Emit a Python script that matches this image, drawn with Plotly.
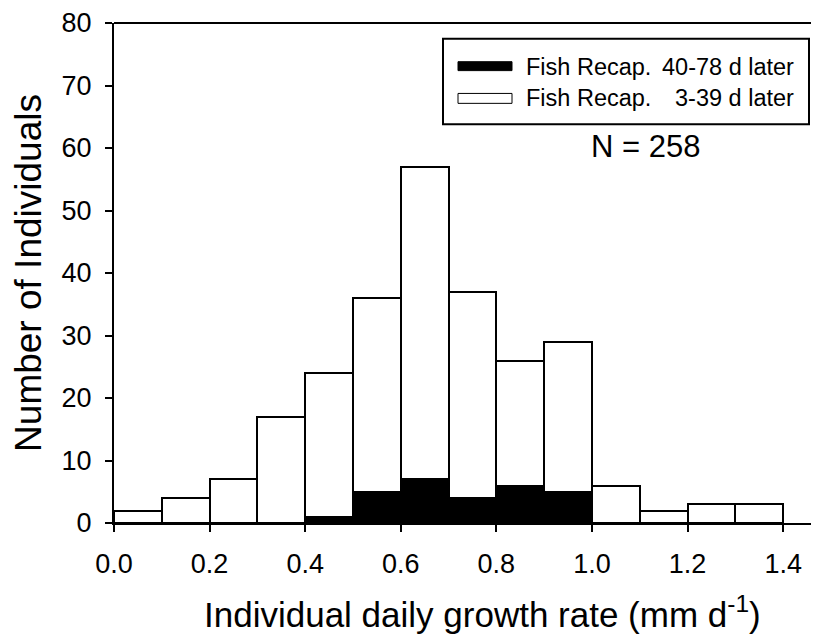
import plotly.graph_objects as go

# ---- data ----
bin_centers = [0.05, 0.15, 0.25, 0.35, 0.45, 0.55, 0.65, 0.75, 0.85, 0.95, 1.05, 1.15, 1.25, 1.35]
totals      = [2, 4, 7, 17, 24, 36, 57, 37, 26, 29, 6, 2, 3, 3]
late_recap  = [0, 0, 0, 0, 1, 5, 7, 4, 6, 5, 0, 0, 0, 0]   # Fish Recap. 40-78 d later
early_recap = [t - l for t, l in zip(totals, late_recap)]  # Fish Recap. 3-39 d later
x_ticks = [0.0, 0.2, 0.4, 0.6, 0.8, 1.0, 1.2, 1.4]
x_tick_labels = ["0.0", "0.2", "0.4", "0.6", "0.8", "1.0", "1.2", "1.4"]
y_ticks = [0, 10, 20, 30, 40, 50, 60, 70, 80]
n_total = 258

FONT = "Liberation Sans, Arial, sans-serif"

fig = go.Figure()
fig.add_trace(go.Bar(x=bin_centers, y=late_recap, width=0.1,
                     marker=dict(color="black", line=dict(color="black", width=2)),
                     name="Fish Recap. 40-78 d later"))
fig.add_trace(go.Bar(x=bin_centers, y=early_recap, width=0.1,
                     marker=dict(color="white", line=dict(color="black", width=2)),
                     name="Fish Recap. 3-39 d later"))

# page offset of the figure (body margin) = 8px
OFF = 8
W, H = 819 - OFF, 640 - OFF
L, T = 114 - OFF, 19 - OFF
R = 0
B = H - (523 - OFF)
pw, ph = W - L - R, H - T - B
def px(xp): return (xp - OFF - L) / pw          # page x -> paper
def py(yp): return (H - B - (yp - OFF)) / ph    # page y -> paper

shapes = [
    # top frame line
    dict(type="line", xref="paper", yref="paper", x0=0, x1=1, y0=1, y1=1,
         line=dict(color="black", width=2)),
    # legend box
    dict(type="rect", xref="paper", yref="paper", x0=px(443), x1=px(809), y0=py(121), y1=py(35),
         line=dict(color="black", width=2), fillcolor="white"),
    dict(type="rect", xref="paper", yref="paper", x0=px(458), x1=px(512), y0=py(67), y1=py(58),
         line=dict(color="black", width=1), fillcolor="black"),
    dict(type="rect", xref="paper", yref="paper", x0=px(458), x1=px(512), y0=py(100), y1=py(90),
         line=dict(color="black", width=1), fillcolor="white"),
]

lfont = dict(family=FONT, size=23.5, color="black")
annotations = [
    dict(text="Fish Recap.", xref="paper", yref="paper", x=px(524), y=py(63),
         xanchor="left", yanchor="middle", showarrow=False, font=lfont),
    dict(text="40-78 d later", xref="paper", yref="paper", x=px(796), y=py(63),
         xanchor="right", yanchor="middle", showarrow=False, font=lfont),
    dict(text="Fish Recap.", xref="paper", yref="paper", x=px(524), y=py(95),
         xanchor="left", yanchor="middle", showarrow=False, font=lfont),
    dict(text="3-39 d later", xref="paper", yref="paper", x=px(796), y=py(95),
         xanchor="right", yanchor="middle", showarrow=False, font=lfont),
    dict(text=f"N = {n_total}", xref="paper", yref="paper", x=px(645), y=py(143),
         xanchor="center", yanchor="middle", showarrow=False,
         font=dict(family=FONT, size=31, color="black")),
    # x-axis title
    dict(text="Individual daily growth rate (mm d<sup>-1</sup>)", xref="paper", yref="paper",
         x=px(482), y=py(613), xanchor="center", yanchor="middle", showarrow=False,
         font=dict(family=FONT, size=35, color="black")),
]

fig.update_layout(
    width=W, height=H,
    margin=dict(l=L, r=R, t=T, b=B, pad=0),
    paper_bgcolor="white", plot_bgcolor="white",
    barmode="stack", bargap=0, showlegend=False,
    font=dict(family=FONT, color="black", size=27),
    shapes=shapes, annotations=annotations,
    xaxis=dict(range=[0, 1.475], tickvals=x_ticks, ticktext=x_tick_labels,
               ticks="outside", ticklen=7, tickwidth=2, tickcolor="black",
               showline=True, linecolor="black", linewidth=2,
               showgrid=False, zeroline=False,
               tickfont=dict(family=FONT, size=27, color="black"),
               ticklabelstandoff=9, ticklabeloverflow="allow"),
    yaxis=dict(range=[0, 80], tickvals=y_ticks,
               ticks="outside", ticklen=7, tickwidth=2, tickcolor="black",
               showline=True, linecolor="black", linewidth=2,
               showgrid=False, zeroline=False,
               tickfont=dict(family=FONT, size=27, color="black"),
               ticklabelstandoff=8, ticklabeloverflow="allow",
               title=dict(text="Number of Individuals",
                          font=dict(family=FONT, size=37, color="black"), standoff=14)),
)

fig.write_html("out.html")
